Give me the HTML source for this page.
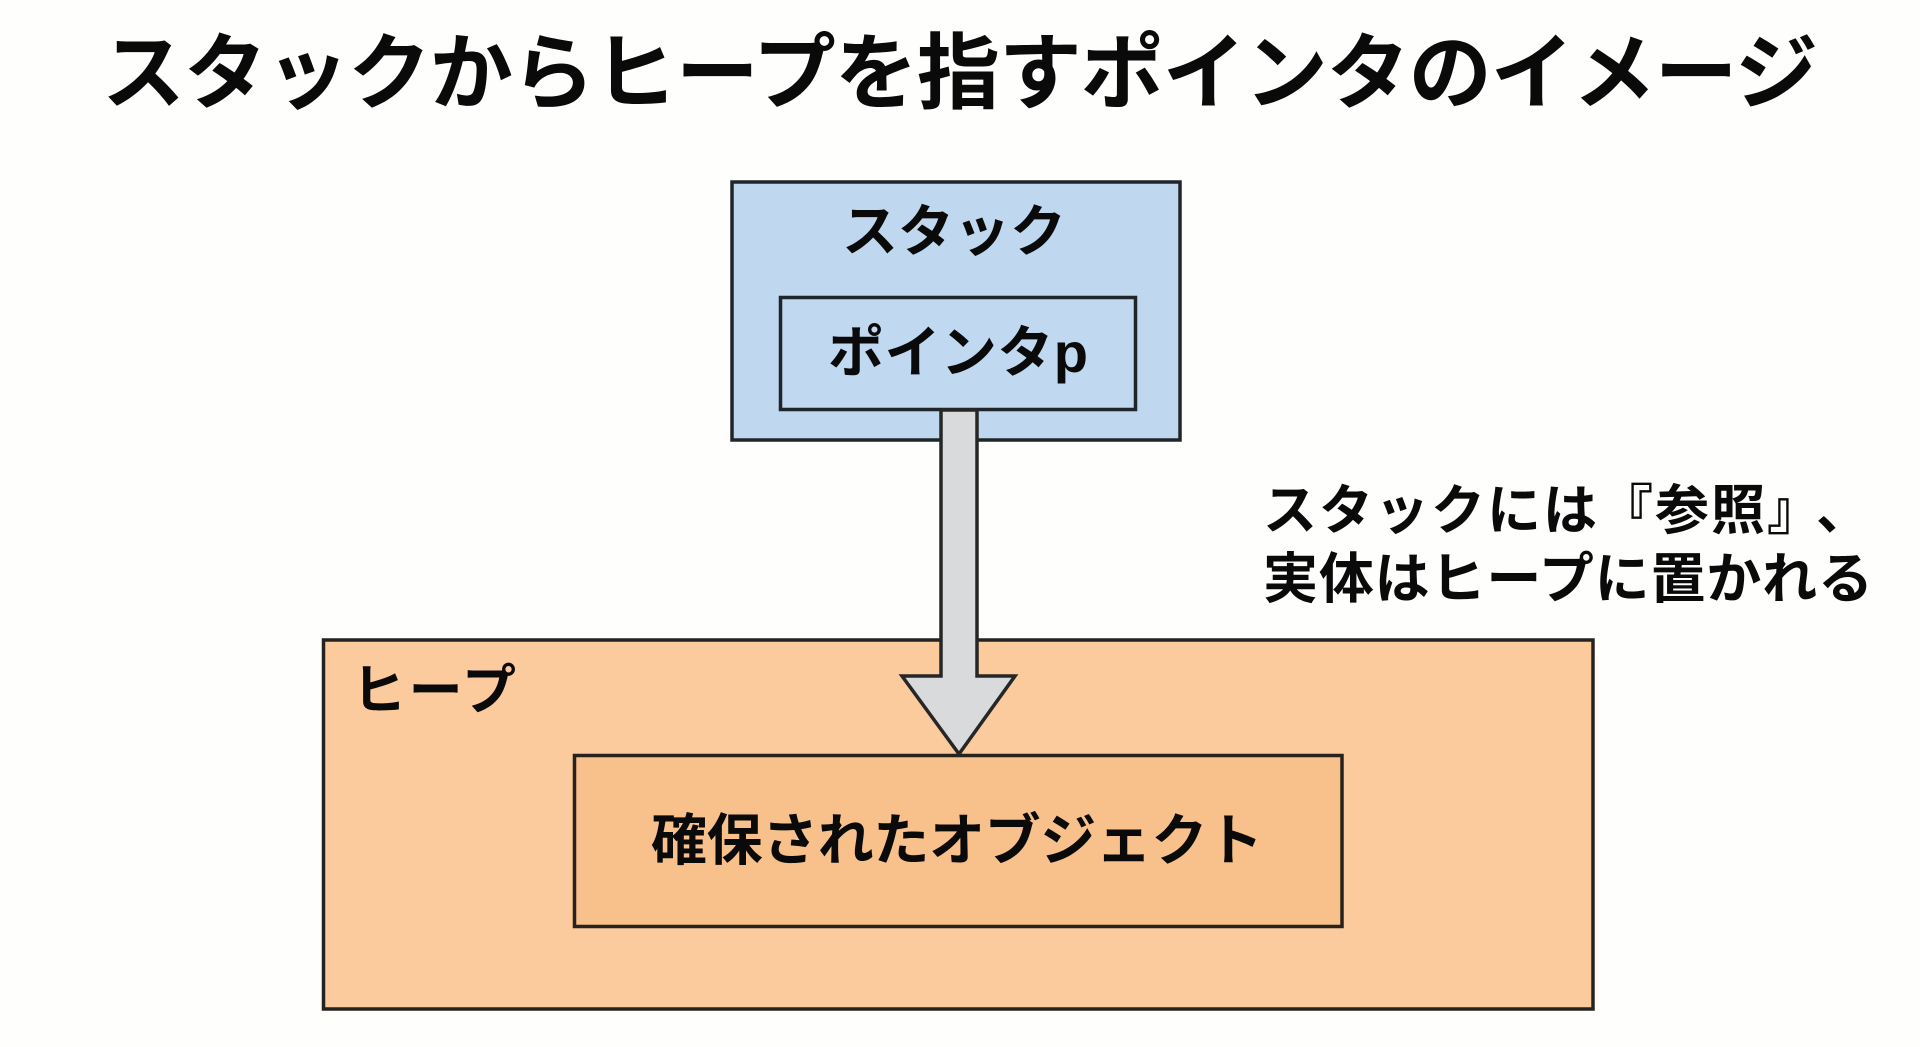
<!DOCTYPE html>
<html lang="ja">
<head>
<meta charset="utf-8">
<title>スタックからヒープを指すポインタのイメージ</title>
<style>
html,body{margin:0;padding:0;background:#fefefd;width:1920px;height:1047px;overflow:hidden}
svg{display:block}
text{font-family:"Liberation Sans","Noto Sans CJK JP",sans-serif;font-weight:700;fill:#0a0a0a}
</style>
</head>
<body>
<svg width="1920" height="1047" viewBox="0 0 1920 1047" xmlns="http://www.w3.org/2000/svg">
<rect width="1920" height="1047" fill="#fefefd"/>
<text x="102" y="102" font-size="83" textLength="1716" lengthAdjust="spacing">スタックからヒープを指すポインタのイメージ</text>

<rect x="732" y="182" width="448" height="258" fill="#bfd7ef" stroke="#1f2529" stroke-width="3.5"/>
<rect x="780.5" y="297.5" width="355" height="112" fill="#c0d8f0" stroke="#1f2529" stroke-width="3.5"/>
<text x="842" y="251" font-size="56" textLength="224" lengthAdjust="spacing">スタック</text>
<text x="828" y="372" font-size="56" textLength="260" lengthAdjust="spacing">ポインタp</text>

<rect x="323.5" y="640" width="1269.5" height="369" fill="#fbcb9d" stroke="#26221e" stroke-width="3.5"/>
<rect x="574.5" y="755.5" width="767.5" height="171" fill="#f8c08a" stroke="#26221e" stroke-width="3.5"/>
<text x="352" y="709" font-size="54" textLength="164" lengthAdjust="spacing">ヒープ</text>
<text x="651" y="860" font-size="56" textLength="612" lengthAdjust="spacing">確保されたオブジェクト</text>

<polygon points="941,410 977,410 977,676 1015,676 959,754 902,676 941,676" fill="#d9dadb" stroke="#262626" stroke-width="3.5" stroke-linejoin="miter"/>

<text x="1263" y="529" font-size="54" textLength="558" lengthAdjust="spacing">スタックには『参照』</text>
<text x="1816" y="529" font-size="54">、</text>
<text x="1263" y="598" font-size="55" textLength="610" lengthAdjust="spacing">実体はヒープに置かれる</text>
</svg>
</body>
</html>
